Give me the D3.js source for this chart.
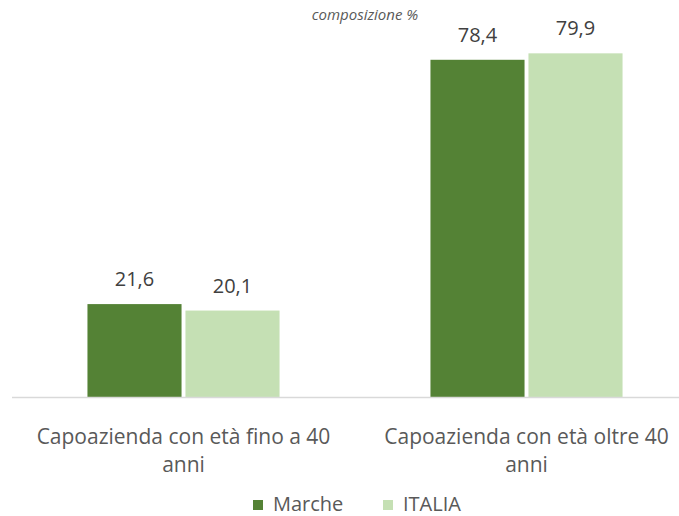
<!DOCTYPE html>
<html>
<head>
<meta charset="utf-8">
<script src="https://cdn.jsdelivr.net/npm/d3@7"></script>
<style>
  body { margin: 0; background: #fff; }
  text { font-family: "Open Sans", "Noto Sans", sans-serif; fill: #595959; }
</style>
</head>
<body>
<div id="chart"></div>
<script>
// dati
const categories = [["Capoazienda con età fino a 40", "anni"], ["Capoazienda con età oltre 40", "anni"]];
const series = ["Marche", "ITALIA"];
const marche = [21.6, 78.4];
const italia = [20.1, 79.9];
const colors = ["#548235", "#c5e0b4"];

const width = 679, height = 516;
const baseY = 397;

const svg = d3.select('#chart').append('svg')
  .attr('width', width)
  .attr('height', height);

const x0 = d3.scaleBand()
  .domain([0, 1])
  .range([12, 698])
  .paddingInner(0.44)
  .paddingOuter(0.22);

const x1 = d3.scaleBand()
  .domain(series)
  .range([0, x0.bandwidth()])
  .paddingInner(0.04);

const y = d3.scaleLinear()
  .domain([0, 92.3])
  .range([baseY, 0]);

const data = [];
categories.forEach(function(c, i){
  data.push({cat: i, s: "Marche", v: marche[i]});
  data.push({cat: i, s: "ITALIA", v: italia[i]});
});

// bars
svg.selectAll('.bar')
  .data(data)
  .enter()
  .append('rect')
  .attr('class', 'bar')
  .attr('x', d => x0(d.cat) + x1(d.s))
  .attr('y', d => y(d.v))
  .attr('width', x1.bandwidth())
  .attr('height', d => baseY - y(d.v))
  .attr('fill', d => colors[series.indexOf(d.s)]);

// labels
svg.selectAll('.val')
  .data(data)
  .enter()
  .append('text')
  .attr('class', 'val')
  .attr('x', d => x0(d.cat) + x1(d.s) + x1.bandwidth() / 2)
  .attr('y', d => y(d.v) - 18)
  .attr('text-anchor', 'middle')
  .style('font-size', '20px')
  .style('fill', '#404040')
  .text(d => d3.format('.1f')(d.v).replace('.', ','));

// axis line
svg.append('line')
  .attr('x1', 12).attr('x2', width)
  .attr('y1', baseY + 0.5).attr('y2', baseY + 0.5)
  .attr('stroke', '#d9d9d9')
  .attr('stroke-width', 1.3);

// category labels
categories.forEach(function(c, i){
  const t = svg.append('text')
    .attr('text-anchor', 'middle')
    .style('font-size', '21px');
  c.forEach(function(line, j){
    t.append('tspan')
      .attr('x', x0(i) + x0.bandwidth() / 2)
      .attr('y', 444 + j * 28)
      .text(line);
  });
});

// titolo
svg.append('text')
  .attr('x', 365)
  .attr('y', 20)
  .attr('text-anchor', 'middle')
  .style('font-size', '15px')
  .style('font-style', 'italic')
  .text('composizione %');

// legenda
const legend = svg.append('g');
const legX = [253, 383];
series.forEach(function(s, i){
  legend.append('rect')
    .attr('x', legX[i])
    .attr('y', 500)
    .attr('width', 10)
    .attr('height', 10)
    .attr('fill', colors[i]);
  legend.append('text')
    .attr('x', legX[i] + 20)
    .attr('y', 511)
    .style('font-size', '20px')
    .text(s);
});
</script>
</body>
</html>
